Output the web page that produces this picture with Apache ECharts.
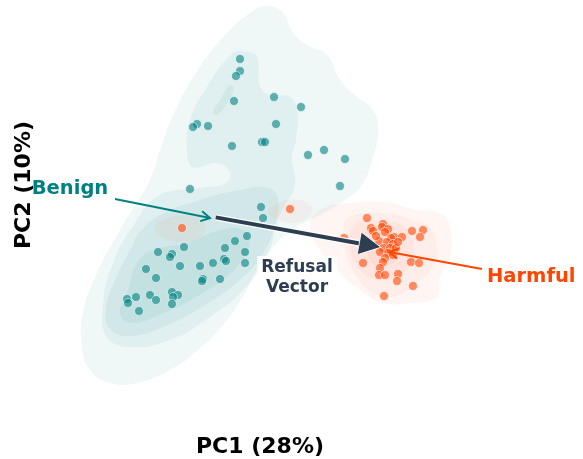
<!DOCTYPE html>
<html>
<head>
<meta charset="utf-8">
<script src="https://cdn.jsdelivr.net/npm/echarts@6/dist/echarts.min.js"></script>
<style>
  html, body { margin: 0; background: #fff; }
  #chart { width: 583px; height: 459px; }
</style>
</head>
<body>
<div id="chart"></div>
<script>
// PCA scores [PC1, PC2]
const benignPoints = [
  [-0.60, 1.91], [-0.60, 1.79], [-0.64, 1.74], [-0.66, 1.49], [-0.26, 1.53],
  [0.01, 1.43], [-1.03, 1.26], [-1.07, 1.23], [-0.92, 1.24], [-0.24, 1.26],
  [-0.68, 1.04], [-0.38, 1.08], [-0.35, 1.08], [0.08, 0.95], [0.24, 1.00],
  [0.45, 0.91], [0.40, 0.64], [-1.10, 0.61], [-0.39, 0.43], [-0.37, 0.32],
  [-0.53, 0.14], [-0.65, 0.09], [-0.75, 0.02], [-0.55, -0.02], [-0.55, -0.13],
  [-0.76, -0.09], [-0.74, -0.11], [-0.87, -0.13], [-0.80, -0.29], [-1.00, -0.16],
  [-0.97, -0.29], [-0.98, -0.31], [-1.16, 0.03], [-1.28, -0.04], [-1.30, -0.07],
  [-1.42, -0.02], [-1.20, -0.16], [-1.54, -0.19], [-1.44, -0.28], [-1.64, -0.47],
  [-1.73, -0.49], [-1.72, -0.53], [-1.50, -0.45], [-1.44, -0.50], [-1.61, -0.61],
  [-1.28, -0.42], [-1.22, -0.45], [-1.27, -0.47], [-1.28, -0.54]
];

const harmfulPoints = [
  [-0.10, 0.41], [-1.18, 0.22],
  [0.67, 0.32], [0.71, 0.22], [0.73, 0.19], [0.83, 0.26], [0.82, 0.23],
  [0.88, 0.21], [0.85, 0.18], [0.94, 0.13], [0.91, 0.12], [1.02, 0.13],
  [0.79, 0.09], [0.87, 0.08], [0.93, 0.06], [0.83, 0.02], [0.90, 0.02],
  [0.96, 0.02], [0.80, -0.02], [0.88, -0.03], [0.93, -0.05], [0.85, -0.08],
  [1.12, 0.19], [1.23, 0.20], [1.20, 0.13], [1.11, -0.12], [1.19, -0.13],
  [0.63, -0.13], [0.83, -0.12], [0.80, -0.18], [0.79, -0.25], [0.85, -0.25],
  [0.98, -0.24], [0.97, -0.31], [1.13, -0.36], [0.84, -0.46], [0.44, 0.12],
  [0.68, 0.04], [0.76, 0.14], [0.98, 0.08]
];

// density contours (outer level first)
const benignOuter = [
  [-0.34, 2.44], [-0.17, 2.37], [-0.07, 2.17], [0.07, 2.05], [0.27, 1.95], [0.40, 1.70],
  [0.57, 1.53], [0.73, 1.40], [0.78, 1.17], [0.73, 0.93], [0.62, 0.65], [0.45, 0.50],
  [0.20, 0.35], [-0.05, 0.22], [-0.25, 0.05], [-0.42, -0.18], [-0.58, -0.48], [-0.78, -0.76],
  [-1.02, -1.00], [-1.30, -1.20], [-1.63, -1.33], [-1.90, -1.33], [-2.10, -1.20], [-2.18, -0.97],
  [-2.17, -0.63], [-2.03, -0.23], [-1.80, 0.20], [-1.50, 0.70], [-1.40, 1.00], [-1.23, 1.43],
  [-1.00, 1.83], [-0.73, 2.17], [-0.50, 2.37]
];
const benignLevel2 = [
  [-0.53, 1.98], [-0.43, 1.93], [-0.40, 1.63], [-0.30, 1.55], [-0.10, 1.53], [-0.03, 1.40],
  [-0.04, 1.10], [-0.08, 0.93], [-0.05, 0.65], [-0.15, 0.45], [-0.23, 0.28], [-0.33, -0.07],
  [-0.57, -0.40], [-0.90, -0.67], [-1.30, -0.90], [-1.70, -0.97], [-1.93, -0.87], [-1.97, -0.57],
  [-1.87, -0.13], [-1.63, 0.30], [-1.40, 0.55], [-1.00, 0.62], [-0.74, 0.67], [-0.70, 0.78],
  [-0.83, 0.87], [-1.07, 0.83], [-1.13, 1.00], [-1.10, 1.30], [-0.93, 1.63], [-0.67, 1.97]
];
const benignLevel3 = [
  [-1.40, 0.35], [-1.00, 0.50], [-0.60, 0.60], [-0.32, 0.62], [-0.22, 0.50], [-0.25, 0.25],
  [-0.38, -0.05], [-0.60, -0.30], [-0.95, -0.55], [-1.35, -0.76], [-1.70, -0.86], [-1.90, -0.79],
  [-1.94, -0.58], [-1.85, -0.30], [-1.70, 0.00], [-1.60, 0.18]
];
const benignLevel4 = [
  [-1.63, -0.13], [-1.73, -0.43], [-1.80, -0.63], [-1.70, -0.73], [-1.43, -0.66], [-0.97, -0.43],
  [-0.63, -0.17], [-0.50, 0.07], [-0.57, 0.20], [-0.80, 0.20], [-1.13, 0.07], [-1.47, 0.00]
];
const benignUpperCore = [
  [-0.87, 1.38], [-0.80, 1.50], [-0.70, 1.65], [-0.66, 1.62], [-0.72, 1.48], [-0.83, 1.35]
];
const harmfulOuter = [
  [0.20, 0.40], [0.50, 0.47], [0.83, 0.48], [1.17, 0.40], [1.40, 0.37], [1.50, 0.23],
  [1.50, -0.07], [1.40, -0.27], [1.37, -0.47], [1.10, -0.53], [0.83, -0.53], [0.60, -0.40],
  [0.40, -0.23], [0.20, 0.00], [0.10, 0.23]
];
const harmfulLevel2 = [
  [0.50, 0.33], [0.83, 0.37], [1.13, 0.30], [1.30, 0.23], [1.37, 0.03], [1.33, -0.17],
  [1.17, -0.33], [0.93, -0.47], [0.73, -0.43], [0.57, -0.27], [0.47, -0.07], [0.43, 0.17]
];
const harmfulLevel3 = [
  [0.57, 0.27], [0.87, 0.28], [1.07, 0.20], [1.13, -0.07], [1.03, -0.23], [0.80, -0.30],
  [0.60, -0.20], [0.50, 0.03]
];
const harmfulLevel4 = [
  [0.67, 0.20], [0.90, 0.20], [1.00, 0.03], [0.93, -0.13], [0.77, -0.17], [0.67, -0.03]
];
const harmfulBlobA = [
  [-0.32, 0.38], [-0.20, 0.48], [0.00, 0.50], [0.12, 0.42], [0.05, 0.30], [-0.15, 0.28]
];
const harmfulBlobB = [
  [-1.45, 0.22], [-1.30, 0.33], [-1.05, 0.33], [-0.95, 0.22], [-1.05, 0.10], [-1.32, 0.10]
];

const benignContours = [benignOuter, benignLevel2, benignLevel3, benignLevel4, benignUpperCore];
const harmfulContours = [harmfulOuter, harmfulLevel2, harmfulLevel3, harmfulLevel4, harmfulBlobA, harmfulBlobB];

const TEAL = '#008080';
const ORANGE = '#ff4500';
const SLATE = '#2c3e50';
const FONT = 'DejaVu Sans';

function centroid(pts) {
  const s = pts.reduce((acc, p) => [acc[0] + p[0], acc[1] + p[1]], [0, 0]);
  return [s[0] / pts.length, s[1] / pts.length];
}
const benignCenter = centroid(benignPoints);
const harmfulCenter = centroid(harmfulPoints);

function contourSeries(name, list, fill) {
  return {
    type: 'custom',
    name: name,
    coordinateSystem: 'cartesian2d',
    silent: true,
    z: 1,
    data: list.map((c, i) => [i]),
    renderItem: function (params, api) {
      const pts = list[params.dataIndex].map(p => api.coord(p));
      return {
        type: 'polygon',
        shape: { points: pts, smooth: 0.45 },
        style: { fill: fill, stroke: null }
      };
    }
  };
}

// helpers for arrows (pixel space)
function unit(a, b) {
  const dx = b[0] - a[0], dy = b[1] - a[1];
  const len = Math.hypot(dx, dy);
  return [dx / len, dy / len];
}

function openArrow(a, b, color, width, headLen, headHalf) {
  const u = unit(a, b), n = [-u[1], u[0]];
  const base = [b[0] - u[0] * headLen, b[1] - u[1] * headLen];
  return [
    { type: 'line', shape: { x1: a[0], y1: a[1], x2: b[0], y2: b[1] },
      style: { stroke: color, lineWidth: width } },
    { type: 'polyline',
      shape: { points: [[base[0] + n[0] * headHalf, base[1] + n[1] * headHalf], b,
                        [base[0] - n[0] * headHalf, base[1] - n[1] * headHalf]] },
      style: { stroke: color, lineWidth: width, fill: null, lineJoin: 'miter' } }
  ];
}

const annotations = [
  { text: 'Benign', textAt: [-2.30, 0.61], tail: [-1.85, 0.51], tip: [-0.90, 0.32], color: TEAL, align: 'center' },
  { text: 'Harmful', textAt: [1.87, -0.27], tail: [1.82, -0.19], tip: [0.89, -0.02], color: ORANGE, align: 'left' }
];

const option = {
  animation: false,
  backgroundColor: '#fff',
  grid: { left: 45, right: 108, top: 5, bottom: 94, outerBoundsMode: 'none' },
  xAxis: {
    type: 'value', min: -2.55, max: 1.75,
    axisLine: { show: false }, axisTick: { show: false },
    axisLabel: { show: false }, splitLine: { show: false },
    name: 'PC1 (28%)', nameLocation: 'middle', nameGap: 71,
    nameTextStyle: { fontFamily: FONT, fontWeight: 'bold', fontSize: 22, color: '#000' }
  },
  yAxis: {
    type: 'value', min: -1.15, max: 2.45,
    axisLine: { show: false }, axisTick: { show: false },
    axisLabel: { show: false }, splitLine: { show: false },
    name: 'PC2 (10%)', nameLocation: 'middle', nameGap: 10,
    nameTextStyle: { fontFamily: FONT, fontWeight: 'bold', fontSize: 22, color: '#000' }
  },
  series: [
    contourSeries('benign density', benignContours, 'rgba(0,128,128,0.062)'),
    contourSeries('harmful density', harmfulContours, 'rgba(255,87,34,0.05)'),
    {
      type: 'scatter', name: 'Benign', data: benignPoints, clip: false,
      symbolSize: 9, z: 3,
      itemStyle: { color: 'rgba(0,128,128,0.75)', borderColor: 'rgba(255,255,255,0.9)', borderWidth: 0.8 }
    },
    {
      type: 'scatter', name: 'Harmful', data: harmfulPoints, clip: false,
      symbolSize: 9, z: 3,
      itemStyle: { color: 'rgba(255,69,0,0.75)', borderColor: 'rgba(255,255,255,0.9)', borderWidth: 0.8 }
    },
    {
      // refusal vector: benign centroid -> harmful centroid
      type: 'custom', name: 'Refusal Vector', coordinateSystem: 'cartesian2d',
      silent: true, z: 5, data: [[0]],
      renderItem: function (params, api) {
        const a = api.coord(benignCenter), b = api.coord(harmfulCenter);
        const u = unit(a, b), n = [-u[1], u[0]];
        const headLen = 22, headHalf = 11.5;
        const base = [b[0] - u[0] * headLen, b[1] - u[1] * headLen];
        const shaftEnd = [b[0] - u[0] * (headLen - 2), b[1] - u[1] * (headLen - 2)];
        const mid = api.coord([-0.03, -0.28]);
        return {
          type: 'group',
          children: [
            { type: 'line', shape: { x1: a[0], y1: a[1], x2: shaftEnd[0], y2: shaftEnd[1] },
              style: { stroke: 'rgba(255,255,255,0.9)', lineWidth: 6.5 } },
            { type: 'line', shape: { x1: a[0], y1: a[1], x2: shaftEnd[0], y2: shaftEnd[1] },
              style: { stroke: SLATE, lineWidth: 4 } },
            { type: 'polygon',
              shape: { points: [b, [base[0] + n[0] * headHalf, base[1] + n[1] * headHalf],
                                [base[0] - n[0] * headHalf, base[1] - n[1] * headHalf]] },
              style: { fill: SLATE, stroke: 'rgba(255,255,255,0.9)', lineWidth: 1, lineJoin: 'round' } },
            { type: 'text', x: mid[0], y: mid[1],
              style: { text: 'Refusal\nVector', fill: SLATE, font: 'bold 17px "DejaVu Sans"',
                       align: 'center', verticalAlign: 'middle', lineHeight: 20,
                       backgroundColor: 'rgba(255,255,255,0.9)', padding: [2, 4] } }
          ]
        };
      }
    },
    {
      type: 'custom', name: 'labels', coordinateSystem: 'cartesian2d',
      silent: true, z: 6, data: annotations.map((a, i) => [i]),
      renderItem: function (params, api) {
        const an = annotations[params.dataIndex];
        const a = api.coord(an.tail), b = api.coord(an.tip), t = api.coord(an.textAt);
        return {
          type: 'group',
          children: openArrow(a, b, an.color, 2, 9, 5).concat([
            { type: 'text', x: t[0], y: t[1],
              style: { text: an.text, fill: an.color, font: 'bold 19.5px "DejaVu Sans"',
                       align: an.align, verticalAlign: 'middle' } }
          ])
        };
      }
    }
  ]
};

const chart = echarts.init(document.getElementById('chart'));
chart.setOption(option);
</script>
</body>
</html>
